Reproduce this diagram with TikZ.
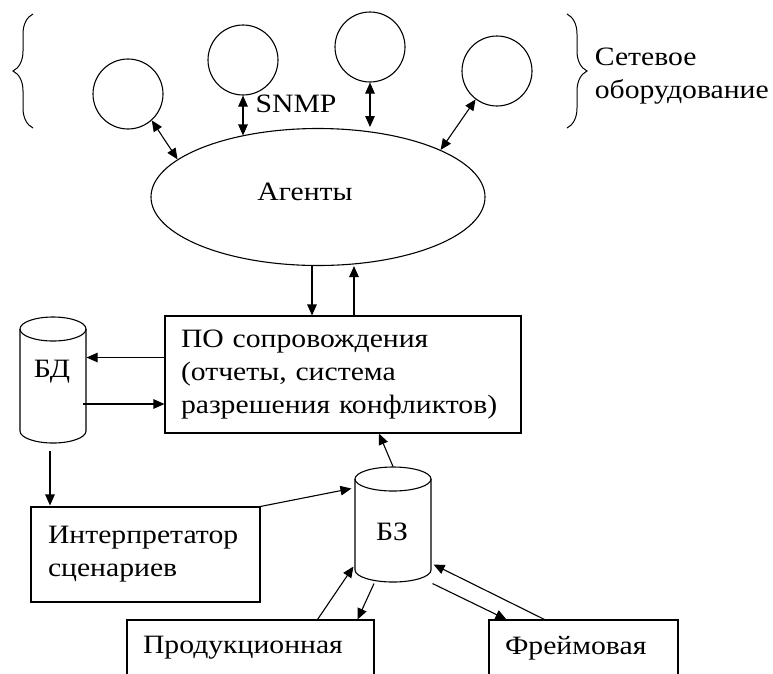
\documentclass[tikz,border=0pt]{standalone}
\usepackage{fontspec}
\setmainfont{Liberation Serif}[FakeStretch=1.12]
\usetikzlibrary{arrows.meta,calc,decorations.pathreplacing,shapes.geometric}
\begin{document}
\begin{tikzpicture}[x=1pt,y=-1pt,line width=1.1pt,
  every node/.style={font=\fontsize{26.5}{33}\selectfont},
  tip/.style={-{Triangle[length=11pt,width=9.5pt]}},
  dbl/.style={{Triangle[length=11pt,width=9.5pt]}-{Triangle[length=11pt,width=9.5pt]}},
  dev/.style={circle,draw,minimum size=70pt,inner sep=0pt},
  box/.style={draw,rectangle,inner xsep=16pt,inner ysep=0pt,align=left},
  hold/.style={rectangle,inner sep=0pt},
  bracestyle/.style={decorate,decoration={brace,amplitude=20pt},line width=1pt}]
\useasboundingbox (0,0) rectangle (773,673);
\clip (0,0) rectangle (773,673);

% braces and label
\draw[bracestyle] (33,128) -- (33,14);
\draw[bracestyle] (567,14) -- (567,128);
\node[anchor=west,align=left] (net) at (591,76) {Сетевое\\оборудование};

% devices
\node[dev] (c1) at (128,94) {};
\node[dev] (c2) at (243,60) {};
\node[dev] (c3) at (370,47) {};
\node[dev] (c4) at (497,71) {};
\node (snmp) at (296,104) {SNMP};

% agents
\node[ellipse,draw,minimum width=334pt,minimum height=137pt,inner sep=0pt,
  label={[shift={(-13,-5)}]center:Агенты}] (ag) at (318,197) {};

\draw[dbl] (c1.-48) -- (ag.165.5);
\draw[dbl] (c2.south) -- (c2.south |- ag.141);
\coordinate (c3e) at (c3.south |- ag.53);
\draw[dbl] (c3.south) -- ($(c3e)+(0,-4)$);
\draw[dbl] (c4.233) -- (ag.21);

% main box
\node[box,minimum width=356pt,minimum height=117pt,text width=324pt] (po) at (343,374.5)
  {ПО сопровождения\\(отчеты, система\\разрешения конфликтов)};

\coordinate (pd) at ($(po.north)+(-31,0)$);
\coordinate (pu) at ($(po.north)+(11,0)$);
\draw[tip] (pd |- ag.south) -- (pd);
\draw[tip] (pu) -- (pu |- ag.south);

% database BD
\node[hold,minimum width=66pt,minimum height=126pt] (bd) at (53,380) {};
\draw (53,329) ellipse [x radius=33, y radius=12];
\draw (20,329) -- (20,431) arc[start angle=180,end angle=0,x radius=33,y radius=12] -- (86,329);
\node (bdt) at (52,372) {БД};

\coordinate (p1) at ($(po.west)+(0,-17)$);
\draw[tip] (p1) -- (p1 -| bd.east);
\coordinate (p2) at ($(bd.east)+(-4,24)$);
\draw[tip] (p2) -- (p2 -| po.west);

% interpreter
\node[box,minimum width=229pt,minimum height=95pt,text width=195pt,inner xsep=17pt] (it) at (145.5,554.5)
  {Интерпретатор\\сценариев};
\coordinate (p3) at ($(bd.south)+(-3,7)$);
\draw[tip] (p3) -- ($(p3 |- it.north)+(0,-1)$);

% knowledge base BZ
\node[hold,minimum width=76pt,minimum height=115pt] (bz) at (393,524.5) {};
\draw (393,479) ellipse [x radius=38, y radius=12];
\draw (355,479) -- (355,570) arc[start angle=180,end angle=0,x radius=38,y radius=12] -- (431,479);
\node (bzt) at (392,532) {БЗ};

\draw[tip] (it.north east) -- ($(bz.west)+(-3,-36)$);
\draw[tip] (bz.north) -- ($(po.south)+(36,0)$);

% bottom boxes
\node[box,minimum width=247pt,minimum height=56pt,text width=215pt] (pr) at (250.5,648) {Продукционная};
\node[box,minimum width=189pt,minimum height=56pt,text width=157pt] (fr) at (583.5,648) {Фреймовая};

\draw[tip] ($(pr.north east)+(-57,0)$) -- ($(bz.west)+(-1,42)$);
\draw[tip] ($(bz.south)+(-19,1)$) -- ($(pr.north east)+(-17,0)$);
\draw[tip] ($(bz.south east)+(1,1)$) -- ($(fr.north west)+(18,0)$);
\draw[tip] ($(fr.north west)+(56,0)$) -- ($(bz.east)+(2,40)$);
\end{tikzpicture}
\end{document}
